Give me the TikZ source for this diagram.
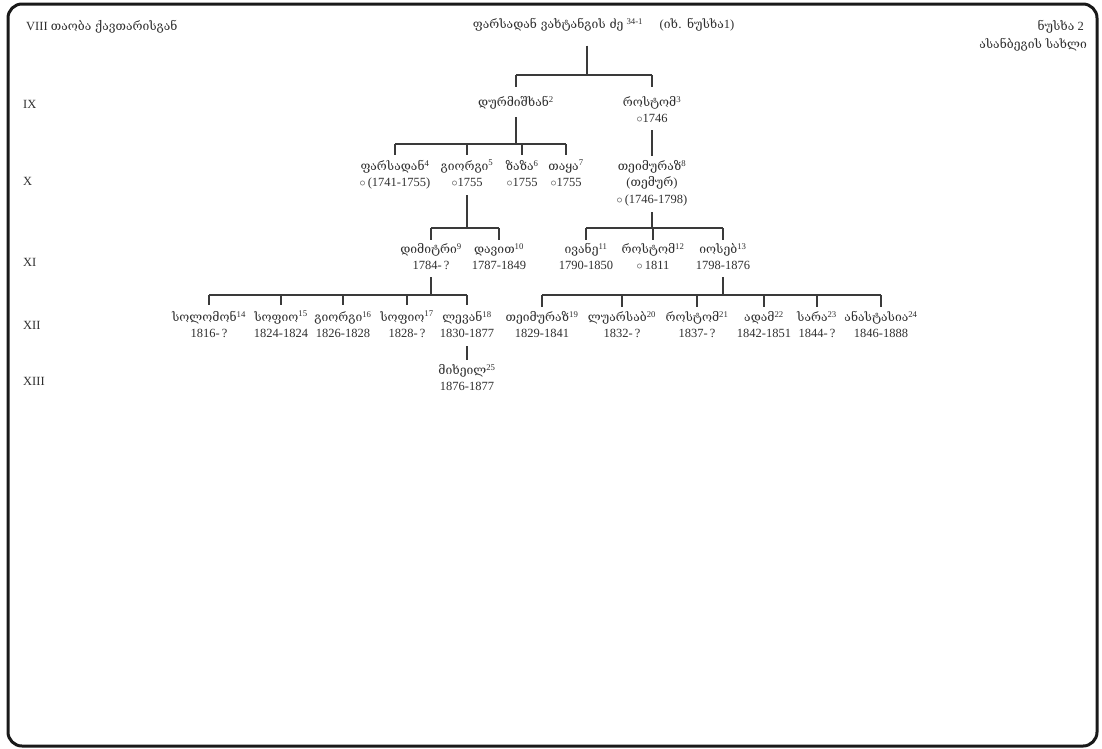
\documentclass[tikz,border=0pt]{standalone}
\usepackage{fontspec}
\setmainfont{Liberation Serif}
\newfontfamily\geo{DejaVu Serif}[Scale=0.97]
\newcommand\gname[2]{{\geo #1}\textsuperscript{#2}}
\newcommand\ring{{\fontsize{12.5}{9}\selectfont$\circ$}}
\definecolor{ink}{HTML}{2E2E2E}
\definecolor{lin}{HTML}{3A3A3A}
\begin{document}
\begin{tikzpicture}[x=1pt,y=-1pt,
  every node/.style={text=ink,font=\fontsize{12.5}{16.5}\selectfont},
  person/.style={align=center,anchor=north,inner sep=0pt},
  gen/.style={anchor=west,inner sep=0pt},
  conn/.style={draw=lin,line width=1.1pt}]
\useasboundingbox (0,0) rectangle (1102,748);
\draw[line width=3pt,rounded corners=14pt,draw=black!90] (8,4) rectangle (1097,746);

% header
\node[gen] (hl) at (26,27) {VIII {\geo თაობა ქავთარისგან}};
\node[inner sep=0pt] (root) at (558,25) {{\geo ფარსადან ვახტანგის ძე} \textsuperscript{34-1}};
\node[inner sep=0pt] (see) at (697,25) {({\geo იხ. ნუსხა}1)};
\node[anchor=east,inner sep=0pt] (hr1) at (1084,27) {{\geo ნუსხა} 2};
\node[anchor=east,inner sep=0pt] (hr2) at (1087,45) {{\geo ასანბეგის სახლი}};

% generations
\node[gen] (g9) at (23,104) {IX};
\node[gen] (g10) at (23,181) {X};
\node[gen] (g11) at (23,262) {XI};
\node[gen] (g12) at (23,325) {XII};
\node[gen] (g13) at (23,381) {XIII};

% IX
\node[person] (d2) at (516,96) {\gname{დურმიშხან}{2}};
\node[person] (r3) at (652,96) {\gname{როსტომ}{3}\\\ring1746};
% X
\node[person] (p4) at (395,160) {\gname{ფარსადან}{4}\\\ring\,(1741-1755)};
\node[person] (g5) at (467,160) {\gname{გიორგი}{5}\\\ring1755};
\node[person] (z6) at (522,160) {\gname{ზაზა}{6}\\\ring1755};
\node[person] (t7) at (566,160) {\gname{თაყა}{7}\\\ring1755};
\node[person] (t8) at (652,160) {\gname{თეიმურაზ}{8}\\({\geo თემურ})\\\ring\,(1746-1798)};
% XI
\node[person] (d9) at (431,243) {\gname{დიმიტრი}{9}\\1784-\,?};
\node[person] (d10) at (499,243) {\gname{დავით}{10}\\1787-1849};
\node[person] (i11) at (586,243) {\gname{ივანე}{11}\\1790-1850};
\node[person] (r12) at (653,243) {\gname{როსტომ}{12}\\\ring\,1811};
\node[person] (i13) at (723,243) {\gname{იოსებ}{13}\\1798-1876};
% XII
\node[person] (s14) at (209,311) {\gname{სოლომონ}{14}\\1816-\,?};
\node[person] (s15) at (281,311) {\gname{სოფიო}{15}\\1824-1824};
\node[person] (g16) at (343,311) {\gname{გიორგი}{16}\\1826-1828};
\node[person] (s17) at (407,311) {\gname{სოფიო}{17}\\1828-\,?};
\node[person] (l18) at (467,311) {\gname{ლევან}{18}\\1830-1877};
\node[person] (t19) at (542,311) {\gname{თეიმურაზ}{19}\\1829-1841};
\node[person] (l20) at (622,311) {\gname{ლუარსაბ}{20}\\1832-\,?};
\node[person] (r21) at (697,311) {\gname{როსტომ}{21}\\1837-\,?};
\node[person] (a22) at (764,311) {\gname{ადამ}{22}\\1842-1851};
\node[person] (s23) at (817,311) {\gname{სარა}{23}\\1844-\,?};
\node[person] (a24) at (881,311) {\gname{ანასტასია}{24}\\1846-1888};
% XIII
\node[person] (m25) at (467,364) {\gname{მიხეილ}{25}\\1876-1877};

% junctions
\coordinate (j0) at (587,75);
\coordinate (j2) at (516,144);
\coordinate (j5) at (467,228);
\coordinate (j8) at (652,228);
\coordinate (j9) at (431,295);
\coordinate (j13) at (723,295);

% root family
\draw[conn] (j0 |- root.south) ++(0,14) -- (j0);
\draw[conn] (j0 -| d2) -- (j0 -| r3);
\draw[conn] (j0 -| d2) -- ++(0,12);
\draw[conn] (j0 -| r3) -- ++(0,12);
% d2 family
\draw[conn] (j2 |- d2.south) ++(0,8) -- (j2);
\draw[conn] (j2 -| p4) -- (j2 -| t7);
\foreach \c in {p4,g5,z6,t7} \draw[conn] (j2 -| \c) -- ++(0,11);
% r3 -> t8
\draw[conn] (r3.south -| t8.north) ++(0,7) -- ([yshift=4pt]t8.north);
% g5 family
\draw[conn] (j5 |- g5.south) ++(0,8) -- (j5);
\draw[conn] (j5 -| d9) -- (j5 -| d10);
\foreach \c in {d9,d10} \draw[conn] (j5 -| \c) -- ++(0,12);
% t8 family
\draw[conn] (j8 |- t8.south) ++(0,6) -- (j8);
\draw[conn] (j8 -| i11) -- (j8 -| i13);
\foreach \c in {i11,r12,i13} \draw[conn] (j8 -| \c) -- ++(0,12);
% d9 family
\draw[conn] (j9 |- d9.south) ++(0,7) -- (j9);
\draw[conn] (j9 -| s14) -- (j9 -| l18);
\foreach \c in {s14,s15,g16,s17,l18} \draw[conn] (j9 -| \c) -- ++(0,10);
% i13 family
\draw[conn] (j13 |- i13.south) ++(0,7) -- (j13);
\draw[conn] (j13 -| t19) -- (j13 -| a24);
\foreach \c in {t19,l20,r21,a22,s23,a24} \draw[conn] (j13 -| \c) -- ++(0,12);
% l18 -> m25
\draw[conn] (l18.south -| m25.north) ++(0,8) -- ([yshift=4pt]m25.north);
\end{tikzpicture}
\end{document}
